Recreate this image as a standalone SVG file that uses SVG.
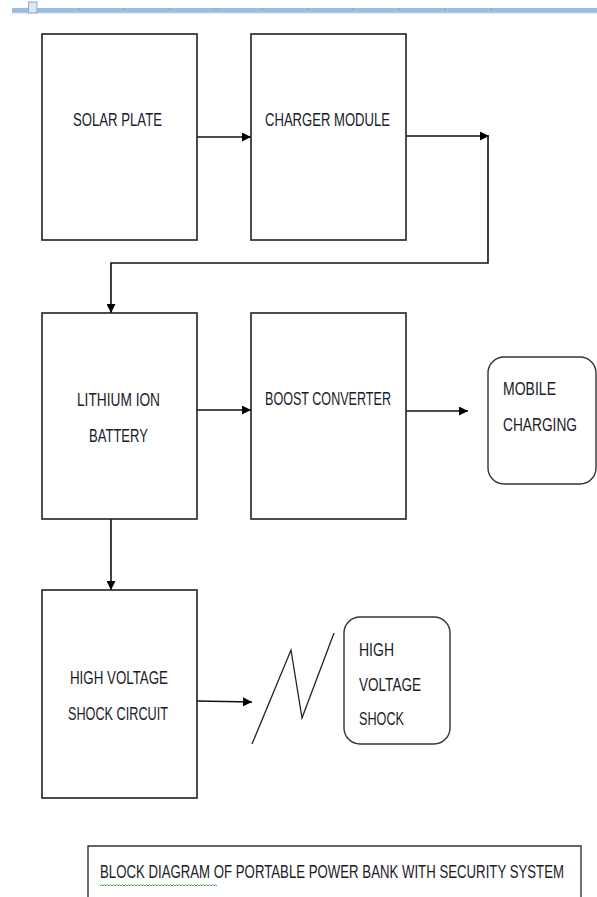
<svg xmlns="http://www.w3.org/2000/svg" width="597" height="897" viewBox="0 0 597 897">
<defs>
<style>
.box{fill:#fff;stroke:#222;stroke-width:1.6}
.rbox{fill:#fff;stroke:#333;stroke-width:1.4}
.ln{fill:none;stroke:#111;stroke-width:1.6}
.t{font-family:"Liberation Sans",Arial,sans-serif;font-size:18px;fill:#1a1a2a}
</style>
<marker id="ah" viewBox="0 0 10 10" refX="10" refY="5" markerWidth="10" markerHeight="9" markerUnits="userSpaceOnUse" orient="auto">
<path d="M0,0 L10,5 L0,10 z" fill="#000"/>
</marker>
</defs>
<rect width="597" height="897" fill="#fff"/>
<g id="ruler">
<rect x="12" y="8" width="585" height="5" fill="#9dbbe3"/>
<rect x="12" y="12.5" width="585" height="1" fill="#c9daf0"/>
<rect x="28.5" y="2" width="8.5" height="11" fill="#dde6f2" stroke="#8ea6c8" stroke-width="1"/>
<g stroke="#8a9bb3" stroke-width="1">
<line x1="79" y1="8" x2="79" y2="10"/><line x1="124" y1="8" x2="124" y2="10"/><line x1="170" y1="8" x2="170" y2="10"/>
<line x1="216" y1="8" x2="216" y2="10"/><line x1="262" y1="8" x2="262" y2="10"/><line x1="308" y1="8" x2="308" y2="10"/>
<line x1="353" y1="8" x2="353" y2="10"/><line x1="399" y1="8" x2="399" y2="10"/><line x1="445" y1="8" x2="445" y2="10"/>
<line x1="491" y1="8" x2="491" y2="10"/>
</g>
</g>
<g id="connectors">
<line class="ln" x1="197" y1="137" x2="251" y2="137" marker-end="url(#ah)"/>
<line class="ln" x1="406" y1="136" x2="489" y2="136" marker-end="url(#ah)"/>
<polyline class="ln" points="488,136 488,263 111,263 111,313" marker-end="url(#ah)"/>
<line class="ln" x1="197" y1="410" x2="251" y2="410" marker-end="url(#ah)"/>
<line class="ln" x1="406" y1="411" x2="468" y2="411" marker-end="url(#ah)"/>
<line class="ln" x1="111" y1="519" x2="111" y2="590" marker-end="url(#ah)"/>
<line class="ln" x1="197" y1="701" x2="252" y2="702" marker-end="url(#ah)"/>
<polyline fill="none" stroke="#222" stroke-width="1.3" points="252,744 291,650 302,718 334,633"/>
</g>
<g id="solar-plate">
<rect class="box" x="42" y="34" width="155" height="206"/>
<text class="t" transform="translate(73,126) scale(0.72,1)" textLength="123.6" lengthAdjust="spacingAndGlyphs">SOLAR PLATE</text>
</g>
<g id="charger-module">
<rect class="box" x="251" y="34" width="155" height="206"/>
<text class="t" transform="translate(265,126) scale(0.72,1)" textLength="173.6" lengthAdjust="spacingAndGlyphs">CHARGER MODULE</text>
</g>
<g id="lithium-ion-battery">
<rect class="box" x="42" y="313" width="155" height="206"/>
<text class="t" transform="translate(77,406) scale(0.72,1)" textLength="115.3" lengthAdjust="spacingAndGlyphs">LITHIUM ION</text>
<text class="t" transform="translate(89,442) scale(0.72,1)" textLength="81.9" lengthAdjust="spacingAndGlyphs">BATTERY</text>
</g>
<g id="boost-converter">
<rect class="box" x="251" y="313" width="155" height="206"/>
<text class="t" transform="translate(265,405) scale(0.72,1)" textLength="175" lengthAdjust="spacingAndGlyphs">BOOST CONVERTER</text>
</g>
<g id="mobile-charging">
<rect class="rbox" x="488" y="357" width="108" height="127" rx="16"/>
<text class="t" transform="translate(503,395) scale(0.72,1)" textLength="73.6" lengthAdjust="spacingAndGlyphs">MOBILE</text>
<text class="t" transform="translate(503,431) scale(0.72,1)" textLength="102.8" lengthAdjust="spacingAndGlyphs">CHARGING</text>
</g>
<g id="high-voltage-shock-circuit">
<rect class="box" x="42" y="590" width="155" height="208"/>
<text class="t" transform="translate(70,684) scale(0.72,1)" textLength="136.1" lengthAdjust="spacingAndGlyphs">HIGH VOLTAGE</text>
<text class="t" transform="translate(68,720) scale(0.72,1)" textLength="138.9" lengthAdjust="spacingAndGlyphs">SHOCK CIRCUIT</text>
</g>
<g id="high-voltage-shock">
<rect class="rbox" x="344" y="617" width="106" height="127" rx="16"/>
<text class="t" transform="translate(359,656) scale(0.72,1)" textLength="48.6" lengthAdjust="spacingAndGlyphs">HIGH</text>
<text class="t" transform="translate(359,691) scale(0.72,1)" textLength="86.1" lengthAdjust="spacingAndGlyphs">VOLTAGE</text>
<text class="t" transform="translate(359,725) scale(0.72,1)" textLength="62.5" lengthAdjust="spacingAndGlyphs">SHOCK</text>
</g>
<g id="caption">
<path d="M88,897 V846 H581 V897" fill="#fff" stroke="#333" stroke-width="1.4"/>
<text class="t" transform="translate(100,878) scale(0.72,1)" textLength="644.4" lengthAdjust="spacingAndGlyphs">BLOCK DIAGRAM  OF PORTABLE POWER BANK WITH SECURITY SYSTEM</text>
<path d="M100,886 l1.5,-1.5 l1.5,1.5 l1.5,-1.5 l1.5,1.5 l1.5,-1.5 l1.5,1.5 l1.5,-1.5 l1.5,1.5 l1.5,-1.5 l1.5,1.5 l1.5,-1.5 l1.5,1.5 l1.5,-1.5 l1.5,1.5 l1.5,-1.5 l1.5,1.5 l1.5,-1.5 l1.5,1.5 l1.5,-1.5 l1.5,1.5 l1.5,-1.5 l1.5,1.5 l1.5,-1.5 l1.5,1.5 l1.5,-1.5 l1.5,1.5 l1.5,-1.5 l1.5,1.5 l1.5,-1.5 l1.5,1.5 l1.5,-1.5 l1.5,1.5 l1.5,-1.5 l1.5,1.5 l1.5,-1.5 l1.5,1.5 l1.5,-1.5 l1.5,1.5 l1.5,-1.5 l1.5,1.5 l1.5,-1.5 l1.5,1.5 l1.5,-1.5 l1.5,1.5 l1.5,-1.5 l1.5,1.5 l1.5,-1.5 l1.5,1.5 l1.5,-1.5 l1.5,1.5 l1.5,-1.5 l1.5,1.5 l1.5,-1.5 l1.5,1.5 l1.5,-1.5 l1.5,1.5 l1.5,-1.5 l1.5,1.5 l1.5,-1.5 l1.5,1.5 l1.5,-1.5 l1.5,1.5 l1.5,-1.5 l1.5,1.5 l1.5,-1.5 l1.5,1.5 l1.5,-1.5 l1.5,1.5 l1.5,-1.5 l1.5,1.5 l1.5,-1.5 l1.5,1.5 l1.5,-1.5 l1.5,1.5 l1.5,-1.5 l1.5,1.5 l1.5,-1.5 l1.5,1.5" fill="none" stroke="#3a9a3a" stroke-width="0.9"/>
</g>
</svg>
